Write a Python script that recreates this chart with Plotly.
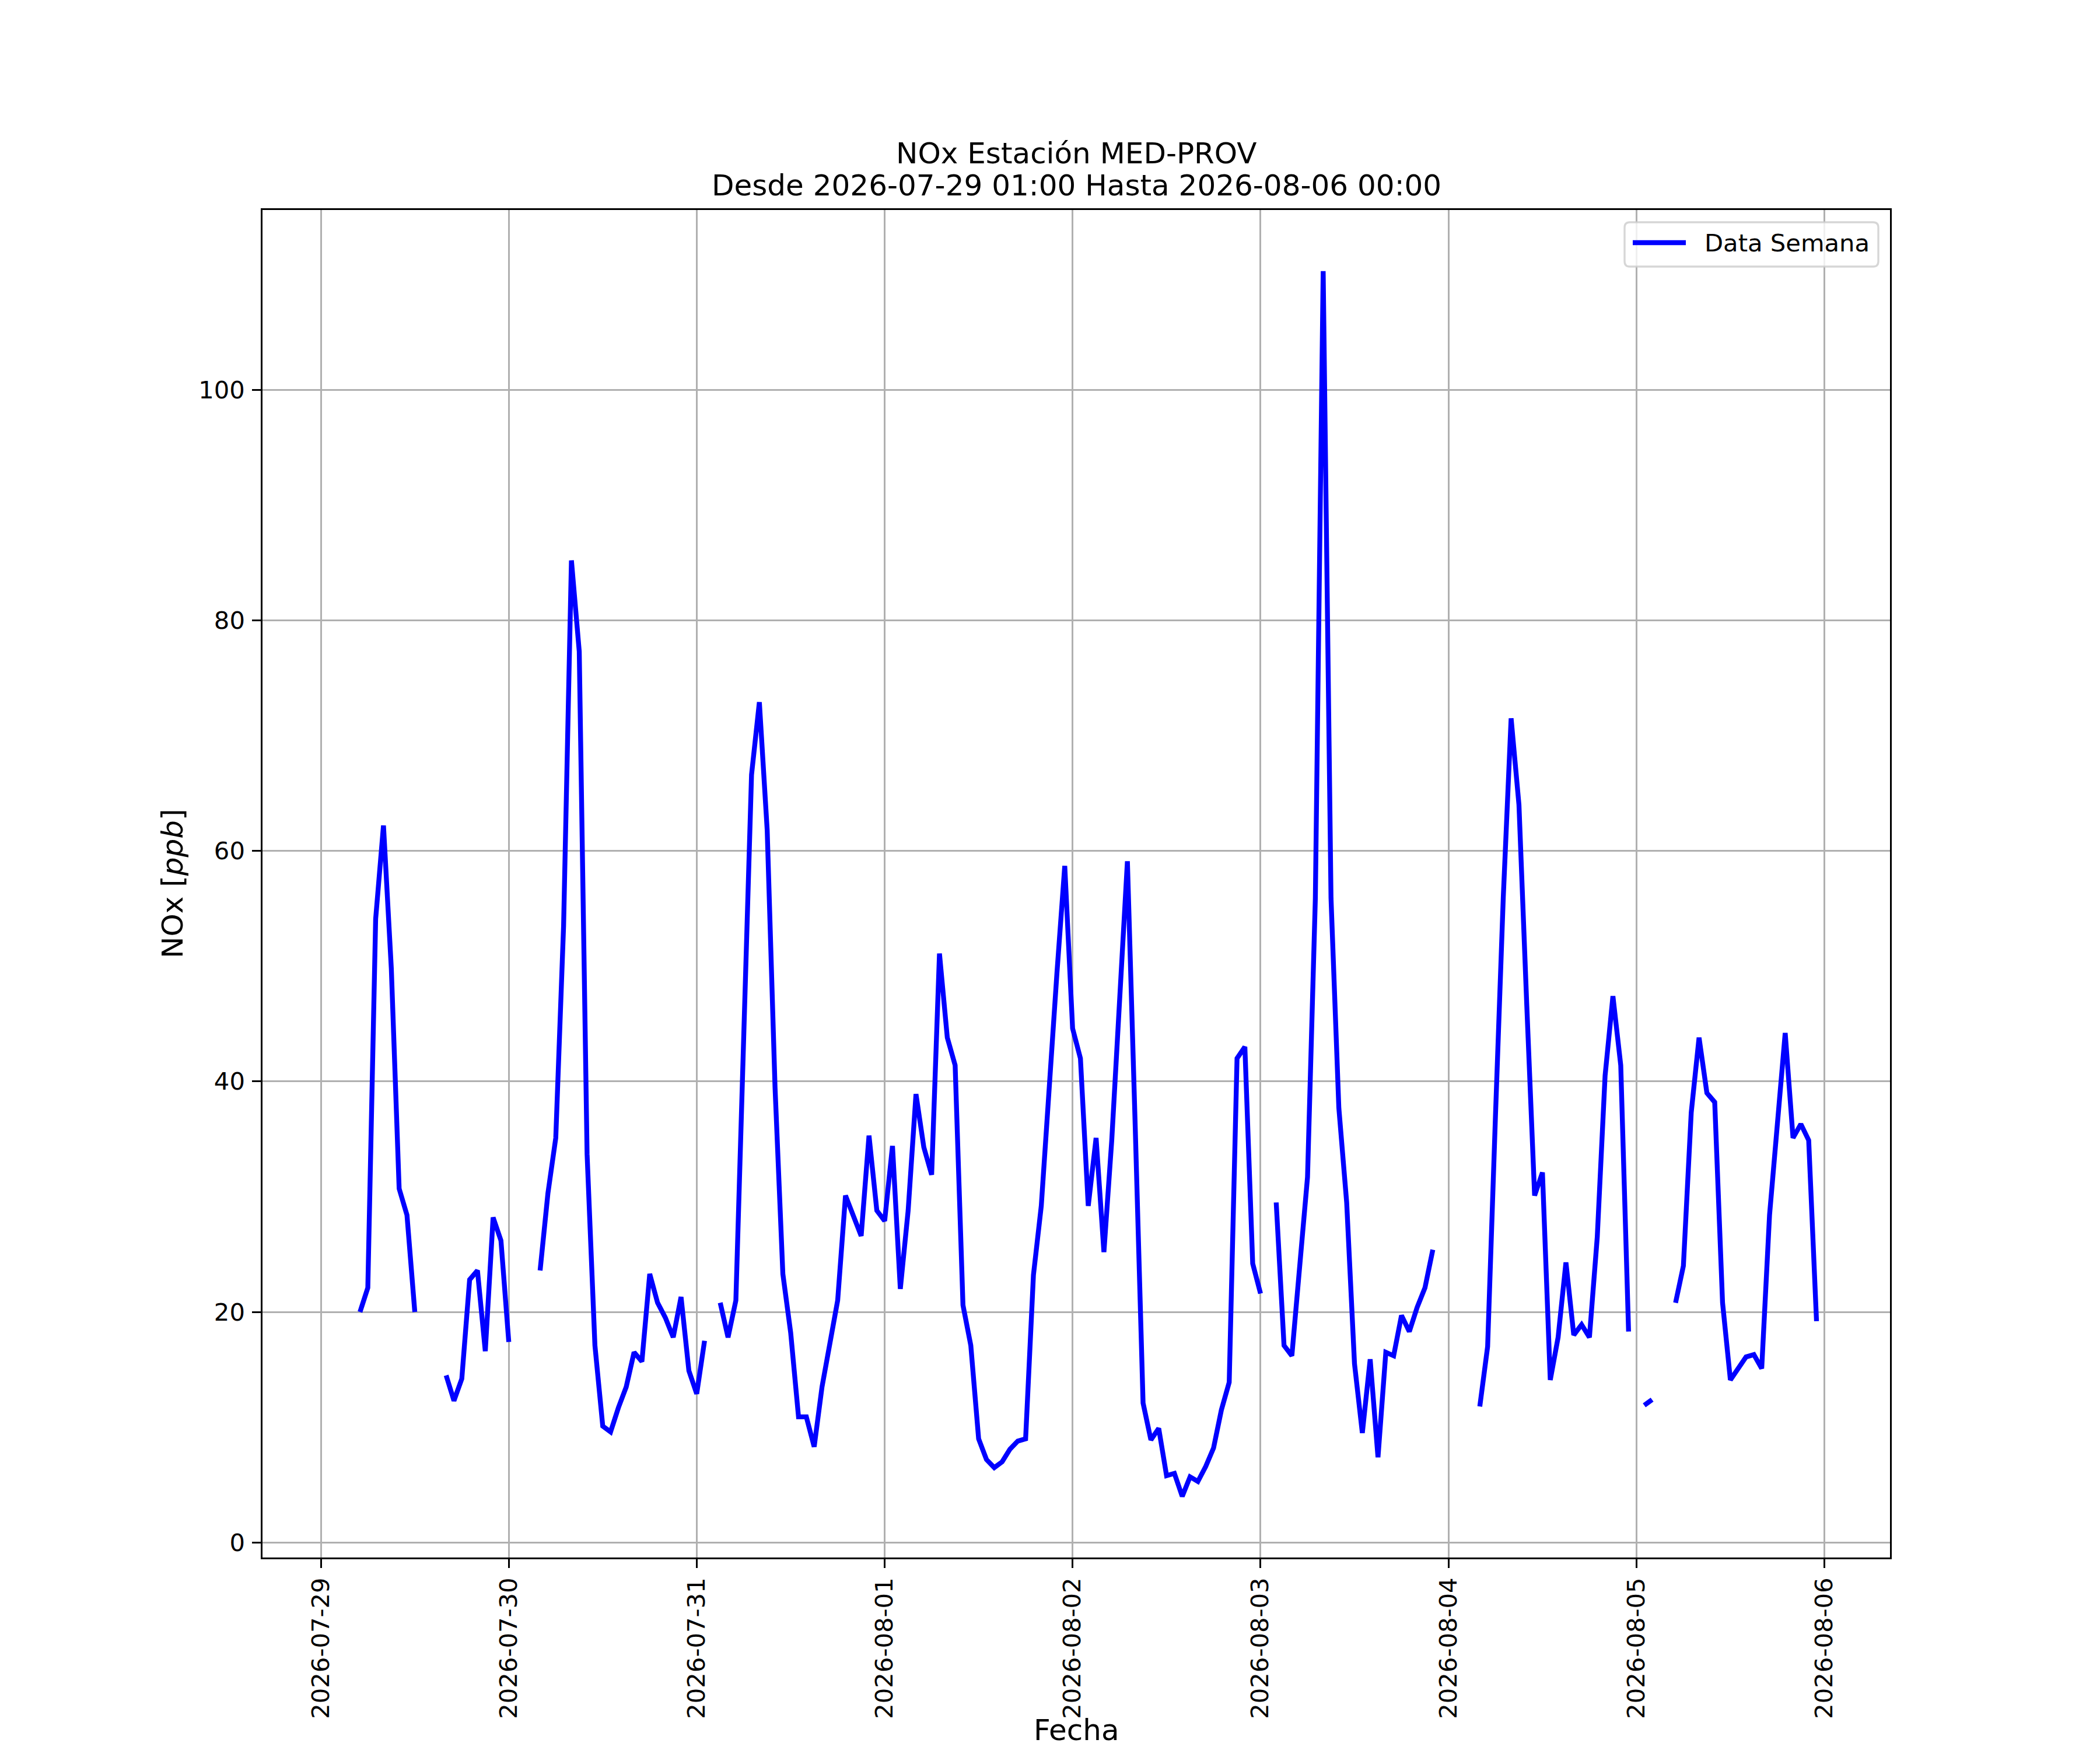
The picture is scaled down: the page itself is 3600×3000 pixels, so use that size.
import pandas as pd
import plotly.graph_objects as go

# ---- data (hourly NOx, ppb; None = missing) ----
d0729 = [None, None, None, None, None, 20.0, 22.1, 54.1, 62.2, 49.8, 30.7, 28.4,
         20.0, None, None, None, 14.5, 12.3, 14.2, 22.8, 23.6, 16.6, 28.2, 26.2]
d0730 = [17.4, None, None, None, 23.6, 30.3, 35.1, 53.5, 85.2, 77.3, 33.7, 17.1,
         10.1, 9.6, 11.7, 13.5, 16.5, 15.7, 23.3, 20.8, 19.5, 17.8, 21.3, 14.9]
d0731 = [12.9, 17.5, None, 20.8, 17.8, 21.0, 43.0, 66.6, 72.9, 61.8, 39.5, 23.3,
         18.2, 10.9, 10.9, 8.3, 13.5, 17.1, 21.0, 30.1, 28.4, 26.6, 35.3, 28.8]
d0801 = [27.9, 34.4, 22.0, 28.8, 38.9, 34.3, 31.9, 51.1, 43.8, 41.4, 20.6, 17.1,
         9.0, 7.2, 6.5, 7.0, 8.1, 8.8, 9.0, 23.2, 29.2, 39.9, 49.4, 58.7]
d0802 = [44.6, 42.0, 29.2, 35.1, 25.2, 34.9, 47.0, 59.1, 36.0, 12.1, 8.9, 9.9,
         5.8, 6.0, 4.0, 5.7, 5.3, 6.6, 8.2, 11.5, 13.9, 42.0, 43.0, 24.2]
d0803 = [21.6, None, 29.5, 17.1, 16.2, 23.6, 31.7, 55.9, 110.3, 55.9, 37.7, 29.5,
         15.5, 9.5, 15.9, 7.4, 16.5, 16.2, 19.7, 18.3, 20.4, 22.1, 25.4, None]
d0804 = [None, None, None, None, 11.8, 17.0, 37.0, 56.0, 71.5, 64.0, 46.6, 30.1,
         32.1, 14.1, 17.8, 24.3, 18.0, 18.9, 17.8, 26.5, 40.5, 47.4, 41.4, 18.3]
d0805 = [None, 11.9, 12.4, None, None, 20.8, 24.0, 37.3, 43.8, 39.0, 38.2, 20.8,
         14.1, 15.1, 16.1, 16.3, 15.1, 28.4, 36.1, 44.2, 35.1, 36.3, 34.9, 19.2]
d0806 = [None]

start_time = "2026-07-29 01:00"
end_time = "2026-08-06 00:00"
title_line1 = "NOx Estación MED-PROV"
title_line2 = "Desde 2026-07-29 01:00 Hasta 2026-08-06 00:00"
series_name = "Data Semana"
x_label = "Fecha"
y_label = "NOx [<i>ppb</i>]"

values = (d0729 + d0730 + d0731 + d0801 + d0802 + d0803 + d0804 + d0805 + d0806)[1:]
times = pd.date_range(start_time, end_time, freq="h")

# ---- layout geometry (px) ----
W, H = 3600, 3000
L, R, T, B = 450, 3240, 360, 2670
PW, PH = R - L, B - T
FONT = "DejaVu Sans"
LW = 8.33


def px_x(px):
    return (px - L) / PW


def px_y(py):
    return (B - py) / PH


fig = go.Figure()
fig.add_trace(go.Scatter(
    x=times, y=values, mode="lines", name=series_name,
    line=dict(color="#0000ff", width=LW), connectgaps=False,
    showlegend=False,
))

axis_common = dict(
    showline=True, linecolor="black", linewidth=3.3, mirror=True,
    showgrid=True, gridcolor="#b0b0b0", gridwidth=3.3,
    ticks="outside", ticklen=14.6, tickwidth=3.3, tickcolor="black",
    tickfont=dict(family=FONT, size=41.7, color="black"),
    zeroline=False,
)

fig.update_layout(
    width=W, height=H,
    margin=dict(l=L, r=W - R, t=T, b=H - B, pad=0),
    paper_bgcolor="white", plot_bgcolor="white",
    font=dict(family=FONT, color="black"),
    showlegend=False,
    xaxis=dict(
        **axis_common,
        type="date",
        range=["2026-07-28 16:33", "2026-08-06 08:23"],
        tick0="2026-07-29", dtick=86400000, tickformat="%Y-%m-%d",
        tickangle=-90, ticklabelstandoff=0,
    ),
    yaxis=dict(
        **axis_common,
        range=[-1.3, 115.6], tick0=0, dtick=20,
        ticklabelstandoff=4,
    ),
)

# title (two lines)
fig.add_annotation(text=title_line1, xref="paper", yref="paper",
                   x=0.5, y=px_y(263), xanchor="center", yanchor="middle",
                   showarrow=False, font=dict(family=FONT, size=50, color="black"))
fig.add_annotation(text=title_line2, xref="paper", yref="paper",
                   x=0.5, y=px_y(318), xanchor="center", yanchor="middle",
                   showarrow=False, font=dict(family=FONT, size=50, color="black"))
# axis labels
fig.add_annotation(text=x_label, xref="paper", yref="paper",
                   x=0.5, y=px_y(2966), xanchor="center", yanchor="middle",
                   showarrow=False, font=dict(family=FONT, size=50, color="black"))
fig.add_annotation(text=y_label, xref="paper", yref="paper",
                   x=px_x(296), y=px_y(1515), xanchor="center", yanchor="middle",
                   textangle=-90, showarrow=False,
                   font=dict(family=FONT, size=50, color="black"))

# legend (drawn to match matplotlib's box)
lx0, lx1, ly0, ly1, rad = 2785, 3220, 381, 457, 9
rx, ry = rad / PW, rad / PH
X0, X1, Y0, Y1 = px_x(lx0), px_x(lx1), px_y(ly1), px_y(ly0)
path = (f"M{X0 + rx},{Y0} L{X1 - rx},{Y0} Q{X1},{Y0} {X1},{Y0 + ry} "
        f"L{X1},{Y1 - ry} Q{X1},{Y1} {X1 - rx},{Y1} L{X0 + rx},{Y1} "
        f"Q{X0},{Y1} {X0},{Y1 - ry} L{X0},{Y0 + ry} Q{X0},{Y0} {X0 + rx},{Y0} Z")
fig.add_shape(type="path", path=path, xref="paper", yref="paper",
              fillcolor="rgba(255,255,255,0.8)",
              line=dict(color="rgba(204,204,204,0.8)", width=3.3), layer="above")
fig.add_shape(type="line", xref="paper", yref="paper",
              x0=px_x(2799), x1=px_x(2890), y0=px_y(416), y1=px_y(416),
              line=dict(color="#0000ff", width=LW), layer="above")
fig.add_annotation(text=series_name, xref="paper", yref="paper",
                   x=px_x(2920), y=px_y(416), xanchor="left", yanchor="middle",
                   showarrow=False, font=dict(family=FONT, size=41.7, color="black"))

fig.write_html(
    "out.html",
    config={"displayModeBar": False},
    post_script="document.body.style.margin='0';document.body.style.padding='0';",
)
